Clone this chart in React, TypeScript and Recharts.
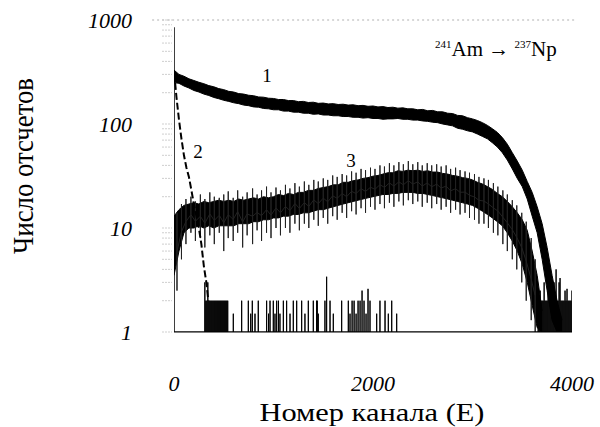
import React from "react";
import { ComposedChart, XAxis, YAxis, Area, Line, ReferenceLine, Customized } from "recharts";

const SERIF = '"Liberation Serif", "Times New Roman", serif';

// channel grid for curves 1 and 3
const channels = [
  0, 50, 100, 150, 200, 250, 300, 350, 400, 450, 500, 550, 600, 650, 700, 750, 800, 850, 900, 950,
  1000, 1050, 1100, 1150, 1200, 1250, 1300, 1350, 1400, 1450, 1500, 1550, 1600, 1650, 1700, 1750, 1800, 1850, 1900, 1950,
  2000, 2050, 2100, 2150, 2200, 2250, 2300, 2350, 2400, 2450, 2500, 2550, 2600, 2650, 2700, 2750, 2800, 2850, 2900, 2950,
  3000, 3050, 3100, 3150, 3200, 3250, 3300, 3350, 3400, 3450, 3500, 3550, 3600, 3650, 3700, 3750, 3800, 3850, 3900,
];

// curve 1: upper / lower edge of the noisy band
const curve1Hi = [
  330, 300, 288, 272, 262, 252, 244, 234, 228, 219, 214, 206, 203, 196, 194, 189, 187, 182, 181, 177,
  176, 172, 172, 168, 168, 164, 165, 161, 162, 158, 159, 156, 157, 154, 155, 152, 153, 150, 151, 148,
  149, 146, 147, 144, 145, 142, 143, 140, 140, 137, 138, 134, 135, 131, 131, 127, 126, 121, 120, 115,
  112, 108, 103, 97, 90, 83, 74, 64, 53, 44, 36, 28, 22, 16, 11, 6.5, 3.5, 2, 1.3,
];
const curve1Lo = [
  250, 246, 232, 222, 210, 203, 194, 188, 180, 175, 169, 165, 160, 157, 152, 150, 146, 145, 141, 140,
  137, 137, 133, 133, 130, 130, 127, 127, 124, 125, 122, 122, 120, 120, 118, 118, 116, 116, 114, 115,
  113, 113, 111, 112, 112, 113, 111, 111, 109, 109, 107, 106, 104, 103, 100, 98, 96, 91, 89, 86,
  84, 80, 76, 72, 66, 60, 53, 45, 37, 30, 25, 19, 13, 9, 5, 2.5, 1.3, 1, 1,
];

// curve 3
const curve3Hi = [
  13, 15, 16.5, 17, 17.5, 17, 18, 17.5, 18, 18.5, 18, 18.5, 18, 19, 18.5, 19, 19.5, 19, 20, 19.5,
  20, 21, 20.5, 21.5, 21, 22, 22, 23, 23, 24, 24.5, 25, 26, 26, 27.5, 27.5, 28.5, 29, 30, 30.5,
  31.5, 32, 33, 34, 34, 35.5, 35, 36, 35.5, 36, 35, 35.5, 34.5, 34.5, 33.5, 33, 32, 31.5, 30.5, 30,
  29, 27.5, 26.5, 25, 23.5, 21.5, 20, 18, 16, 14, 12, 9.5, 6, 3.5, 1.6, null, null, null, null,
];
const curve3Lo = [
  3.5, 6, 9, 10, 10, 10.5, 10, 10.5, 10, 10.5, 10.5, 10.5, 10.5, 11, 11, 11, 11.5, 11.5, 12, 12,
  12.5, 12.5, 13, 13, 13.5, 13.5, 14, 14, 14.5, 15, 15, 15.5, 16, 16.5, 17, 17.5, 18, 18.5, 19, 19.5,
  20, 20.5, 21, 21, 21.5, 21.5, 22, 22, 22, 21.5, 21.5, 21, 20.5, 20, 19.5, 19, 18.5, 18, 17.5, 17,
  16.5, 15.5, 14.5, 13.5, 12.5, 11.5, 10.5, 9, 7.5, 6, 4.5, 3, 1.8, 1.1, 1, null, null, null, null,
];

// curve 3 noise excursions beyond the band edges (channel, low, high)
const curve3FuzzCh = [
  30, 75, 120, 170, 215, 265, 310, 360, 405, 455, 500, 545, 595, 640, 690, 735, 790, 835, 880, 930,
  975, 1025, 1070, 1120, 1165, 1215, 1260, 1310, 1355, 1405, 1450, 1500, 1545, 1595, 1640, 1690, 1735, 1785, 1830, 1880,
  1925, 1975, 2020, 2070, 2115, 2165, 2210, 2260, 2305, 2355, 2400, 2450, 2495, 2545, 2590, 2640, 2685, 2735, 2780, 2830,
  2875, 2925, 2970, 3020, 3065, 3115, 3160, 3210, 3255, 3305, 3350, 3400, 3445, 3495, 3540, 3590, 3630,
];
const curve3FuzzLo = [
  2.5, 5, 7, 9, 7.5, 8, 6.5, 8.5, 7, 9, 6, 8, 7.5, 9, 6.5, 8.5, 7, 9.5, 7.5, 9,
  8, 10, 8.5, 10, 9, 11, 9.5, 11, 10, 12, 10.5, 12.5, 11, 13, 12, 14, 12.5, 14.5, 13.5, 15.5,
  14, 16, 15, 17, 15.5, 17.5, 16, 18, 16.5, 18.5, 17, 18, 16, 17.5, 15.5, 17, 15, 16, 14, 15,
  13.5, 14, 12.5, 12, 11, 11, 10, 9, 8.5, 7, 6, 5, 4, 3, 2, 1.3, 1,
];
const curve3FuzzHi = [
  14, 17, 19, 20, 18, 21, 19, 22, 20, 19.5, 21, 22.5, 19.5, 23, 20, 22, 24, 21, 23, 25,
  22, 24.5, 23, 26, 24, 27, 25, 28, 26, 29, 28, 30, 29, 32, 31, 33, 32, 35, 34, 37,
  36, 38, 37, 40, 39, 42, 40, 43, 41, 44, 41, 43, 40, 42, 40, 41, 39, 40, 37, 38,
  36, 35, 34, 33, 31, 30, 29, 27, 25, 23, 21, 18.5, 16.5, 14, 11.5, 8, 5,
];

// curve 2: steep decay near the start
const curve2Ch = [2, 25, 50, 75, 100, 125, 150, 175, 200, 225, 250, 275, 300, 325, 345];
const curve2Val = [310, 180, 110, 72, 50, 38, 31, 23, 17, 13, 10, 7, 4.3, 3, 2];

// isolated low-count channels (drawn as spikes from 1)
const spikeCh = [
  0,
  310, 320, 330, 340, 350, 360, 370, 380, 390, 400, 410, 420, 430, 440, 450, 460, 470, 480, 490, 500, 510, 520, 530, 540,
  596, 680, 747, 771, 787, 814, 847, 931, 950, 965, 998, 1015, 1032, 1050, 1065, 1099, 1132, 1166, 1199, 1233,
  1283, 1316, 1350, 1400, 1433, 1440, 1450, 1517, 1534, 1568, 1601, 1685, 1752, 1769, 1790, 1810, 1830, 1850, 1870,
  1890, 1910, 1930, 1950, 1970, 2037, 2070, 2121, 2154, 2188, 2238,
  3660, 3670, 3680, 3690, 3700, 3710, 3720, 3730, 3740, 3750, 3760, 3770, 3780, 3790,
  3800, 3810, 3820, 3830, 3840, 3850, 3860, 3870, 3880, 3890, 3900, 3910, 3920, 3930, 3940, 3950, 3960, 3970, 3980, 3990, 4000,
];
const spikeVal = [
  850,
  3, 2, 2, 3, 2, 2, 2, 2, 2, 2, 2, 2, 2, 2, 2, 2, 2, 2, 2, 2, 2, 2, 2, 2,
  1.5, 2, 2, 1.5, 2, 1.5, 2, 2, 1.5, 2, 2, 1.5, 2, 2, 1.5, 2, 2, 1.5, 2, 2,
  2, 1.5, 2, 2, 2, 2, 1.5, 2, 3.4, 2, 1.5, 2, 2, 1.5, 2, 2, 1.5, 2, 2,
  2.5, 2, 1.5, 2.6, 2, 1.5, 2, 2, 1.5, 2, 1.5,
  2, 2, 2.5, 2, 2, 2, 3, 2, 2, 2, 2.5, 2, 2, 2,
  2, 2, 3, 2, 4, 2, 2, 3, 3.3, 2, 2, 2, 2, 2.5, 2, 2.6, 2, 2, 2, 2, 2.5,
];

const xTicks = [0, 2000, 4000];
const yTicks = [
  1, 2, 3, 4, 5, 6, 7, 8, 9,
  10, 20, 30, 40, 50, 60, 70, 80, 90,
  100, 200, 300, 400, 500, 600, 700, 800, 900, 1000,
];
const yLabelled = [1, 10, 100, 1000];

const rows = channels.map((ch, i) => ({
  ch,
  c1: [curve1Lo[i], curve1Hi[i]],
  c3: curve3Hi[i] == null ? null : [curve3Lo[i], curve3Hi[i]],
}));
const curve2Rows = curve2Ch.map((ch, i) => ({ ch, v: curve2Val[i] }));
// each excursion is a vertical stroke; the path moves between strokes through the band's middle
const curve3FuzzRows = curve3FuzzCh.flatMap((ch, i) => {
  const mid = Math.sqrt(curve3FuzzLo[i] * curve3FuzzHi[i]);
  return [
    { ch, v: mid },
    { ch, v: curve3FuzzHi[i] },
    { ch, v: curve3FuzzLo[i] },
    { ch, v: mid },
  ];
});
const spikeRows = spikeCh.flatMap((ch, i) => [
  { ch, v: 1 },
  { ch, v: spikeVal[i] },
  { ch, v: 1 },
]);

const YTick = (props: any) => {
  const { x, y, payload } = props;
  const v = payload.value;
  return (
    <g>
      <line x1={x - 12} x2={x - 2} y1={y} y2={y} stroke="#cfcfcf" strokeDasharray="2 1" />
      {yLabelled.includes(v) && (
        <text x={x - 42} y={y} dy="0.35em" textAnchor="end" fontFamily={SERIF} fontStyle="italic" fontSize={22} fill="#000">
          {v}
        </text>
      )}
    </g>
  );
};

const XTick = (props: any) => {
  const { x, y, payload } = props;
  return (
    <text x={x} y={y + 59} textAnchor="middle" fontFamily={SERIF} fontStyle="italic" fontSize={22} fill="#000">
      {payload.value}
    </text>
  );
};

const Annotations = () => (
  <g fontFamily={SERIF} fill="#000">
    <text x={267} y={82} fontSize={19} textAnchor="middle">1</text>
    <text x={198} y={158} fontSize={19} textAnchor="middle">2</text>
    <text x={351} y={167} fontSize={19} textAnchor="middle">3</text>
    <text x={435} y={56} fontSize={21}>
      <tspan fontSize={11} dy={-8}>241</tspan>
      <tspan dy={8}>Am → </tspan>
      <tspan fontSize={11} dy={-8}>237</tspan>
      <tspan dy={8}>Np</tspan>
    </text>
    <text
      x={33}
      y={166}
      transform="rotate(-90 33 166)"
      textAnchor="middle"
      fontSize={30}
      textLength={176}
      lengthAdjust="spacingAndGlyphs"
    >
      Число отсчетов
    </text>
    <text x={372} y={421} textAnchor="middle" fontSize={26} textLength={225} lengthAdjust="spacingAndGlyphs">
      Номер канала (E)
    </text>
  </g>
);

export default function App() {
  return (
    <div style={{ position: "absolute", left: 0, top: 0, background: "#fff" }}>
      <ComposedChart width={600} height={427} data={rows} margin={{ top: 20, right: 28, bottom: 0, left: 0 }}>
        <XAxis
          dataKey="ch"
          type="number"
          domain={[0, 4000]}
          ticks={xTicks}
          interval={0}
          height={95}
          tickSize={0}
          tickMargin={0}
          tickLine={false}
          axisLine={{ stroke: "#000" }}
          tick={<XTick />}
          allowDataOverflow
        />
        <YAxis
          scale="log"
          type="number"
          domain={[1, 1000]}
          ticks={yTicks}
          interval={0}
          width={174}
          tickSize={0}
          tickMargin={0}
          tickLine={false}
          axisLine={false}
          tick={<YTick />}
          allowDataOverflow
        />
        <ReferenceLine
          segment={[{ x: -220, y: 1000 }, { x: 4050, y: 1000 }]}
          ifOverflow="visible"
          stroke="#b0b0b0"
          strokeDasharray="2 3"
        />
        <Area
          type="linear"
          dataKey="c1"
          stroke="#000"
          strokeWidth={1}
          fill="#000"
          fillOpacity={1}
          dot={false}
          activeDot={false}
          isAnimationActive={false}
        />
        <Area
          type="linear"
          dataKey="c3"
          stroke="#000"
          strokeWidth={1}
          fill="#000"
          fillOpacity={1}
          dot={false}
          activeDot={false}
          isAnimationActive={false}
        />
        <Line
          data={curve3FuzzRows}
          dataKey="v"
          type="linear"
          stroke="#222"
          strokeWidth={1}
          dot={false}
          activeDot={false}
          isAnimationActive={false}
        />
        <Line
          data={curve2Rows}
          dataKey="v"
          type="linear"
          stroke="#000"
          strokeWidth={2}
          strokeDasharray="7 3"
          dot={false}
          activeDot={false}
          isAnimationActive={false}
        />
        <Line
          data={spikeRows}
          dataKey="v"
          type="linear"
          stroke="#000"
          strokeWidth={1}
          dot={false}
          activeDot={false}
          isAnimationActive={false}
        />
        <Customized component={Annotations} />
      </ComposedChart>
    </div>
  );
}
